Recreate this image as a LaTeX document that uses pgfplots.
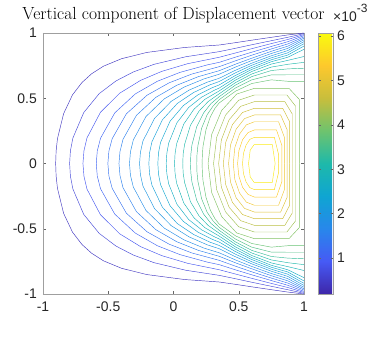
\documentclass[border=0pt]{standalone}
\usepackage{fontspec}
\newfontfamily\arial{Liberation Sans}
\usepackage{pgfplots}
\usepackage{pgfplotstable}
\pgfplotsset{compat=1.18}

% upper halves of the contours (the field is symmetric in y)
\pgfplotstableread{
x y z
1 1.000 0.416
0.875 0.985 0.416
0.75 0.967 0.416
0.6 0.945 0.416
0.475 0.926 0.416
0.35 0.908 0.416
0.084 0.889 0.416
-0.205 0.851 0.416
-0.398 0.803 0.416
-0.536 0.746 0.416
-0.627 0.688 0.416
-0.701 0.621 0.416
-0.774 0.526 0.416
-0.842 0.382 0.416
-0.889 0.191 0.416
-0.8995 0.096 0.416
-0.903 0 0.416
}\kA
\pgfplotstableread{
x y z
1 0.995 0.642
0.875 0.967 0.642
0.75 0.941 0.642
0.6 0.910 0.642
0.475 0.883 0.642
0.35 0.857 0.642
0.094 0.818 0.642
-0.149 0.760 0.642
-0.309 0.701 0.642
-0.440 0.633 0.642
-0.569 0.536 0.642
-0.688 0.390 0.642
-0.771 0.195 0.642
-0.790 0.097 0.642
-0.796 0 0.642
}\kB
\pgfplotstableread{
x y z
1 0.988 0.868
0.875 0.95 0.868
0.75 0.919 0.868
0.6 0.880 0.868
0.475 0.847 0.868
0.35 0.814 0.868
0.109 0.765 0.868
-0.090 0.706 0.868
-0.252 0.637 0.868
-0.412 0.539 0.868
-0.560 0.392 0.868
-0.663 0.196 0.868
-0.686 0.098 0.868
-0.694 0 0.868
}\kC
\pgfplotstableread{
x y z
1 0.98 1.094
0.875 0.933 1.094
0.75 0.897 1.094
0.6 0.853 1.094
0.475 0.815 1.094
0.35 0.775 1.094
0.260 0.756 1.094
0.049 0.698 1.094
-0.124 0.630 1.094
-0.293 0.533 1.094
-0.450 0.388 1.094
-0.559 0.194 1.094
-0.584 0.097 1.094
-0.592 0 1.094
}\kD
\pgfplotstableread{
x y z
1 0.97 1.320
0.875 0.916 1.320
0.75 0.878 1.320
0.6 0.830 1.320
0.475 0.787 1.320
0.35 0.742 1.320
0.139 0.685 1.320
-0.034 0.618 1.320
-0.203 0.523 1.320
-0.361 0.381 1.320
-0.470 0.190 1.320
-0.495 0.095 1.320
-0.503 0 1.320
}\kE
\pgfplotstableread{
x y z
1 0.96 1.546
0.875 0.899 1.546
0.75 0.860 1.546
0.6 0.807 1.546
0.475 0.761 1.546
0.35 0.711 1.546
0.189 0.665 1.546
0.026 0.600 1.546
-0.134 0.508 1.546
-0.284 0.369 1.546
-0.387 0.185 1.546
-0.410 0.092 1.546
-0.418 0 1.546
}\kF
\pgfplotstableread{
x y z
1 0.948 1.772
0.875 0.882 1.772
0.75 0.843 1.772
0.6 0.789 1.772
0.475 0.739 1.772
0.35 0.684 1.772
0.233 0.648 1.772
0.080 0.585 1.772
-0.071 0.495 1.772
-0.211 0.360 1.772
-0.308 0.180 1.772
-0.330 0.090 1.772
-0.337 0 1.772
}\kG
\pgfplotstableread{
x y z
1 0.934 1.998
0.875 0.865 1.998
0.75 0.8255 1.998
0.6 0.769 1.998
0.475 0.7145 1.998
0.35 0.653 1.998
0.258 0.623 1.998
0.119 0.562 1.998
-0.018 0.476 1.998
-0.145 0.346 1.998
-0.234 0.173 1.998
-0.2535 0.086 1.998
-0.260 0 1.998
}\kH
\pgfplotstableread{
x y z
1 0.918 2.224
0.875 0.848 2.224
0.75 0.810 2.224
0.6 0.753 2.224
0.475 0.695 2.224
0.35 0.628 2.224
0.280 0.603 2.224
0.154 0.544 2.224
0.030 0.461 2.224
-0.085 0.335 2.224
-0.165 0.167 2.224
-0.183 0.084 2.224
-0.189 0 2.224
}\kI
\pgfplotstableread{
x y z
1 0.9 2.450
0.875 0.831 2.450
0.75 0.795 2.450
0.6 0.736 2.450
0.475 0.675 2.450
0.35 0.602 2.450
0.299 0.582 2.450
0.186 0.525 2.450
0.076 0.444 2.450
-0.027 0.323 2.450
-0.099 0.162 2.450
-0.115 0.081 2.450
-0.120 0 2.450
}\kJ
\pgfplotstableread{
x y z
1 0.875 2.676
0.875 0.814 2.676
0.75 0.780 2.676
0.6 0.721 2.676
0.475 0.657 2.676
0.35 0.578 2.676
0.314 0.562 2.676
0.215 0.508 2.676
0.117 0.430 2.676
0.026 0.312 2.676
-0.037 0.156 2.676
-0.051 0.078 2.676
-0.056 0 2.676
}\kK
\pgfplotstableread{
x y z
1 0.82 2.902
0.875 0.79 2.902
0.75 0.762 2.902
0.6 0.705 2.902
0.475 0.639 2.902
0.35 0.556 2.902
0.241 0.492 2.902
0.157 0.416 2.902
0.079 0.303 2.902
0.024 0.151 2.902
0.012 0.076 2.902
0.008 0 2.902
}\kL
\pgfplotstableread{
x y z
1 0.775 3.128
0.875 0.76 3.128
0.75 0.739 3.128
0.6 0.686 3.128
0.475 0.620 3.128
0.35 0.534 3.128
0.266 0.475 3.128
0.196 0.402 3.128
0.130 0.293 3.128
0.085 0.146 3.128
0.074 0.073 3.128
0.071 0 3.128
}\kM
\pgfplotstableread{
x y z
1 0.73 3.354
0.875 0.725 3.354
0.75 0.7125 3.354
0.6 0.666 3.354
0.475 0.601 3.354
0.35 0.512 3.354
0.287 0.459 3.354
0.231 0.388 3.354
0.178 0.282 3.354
0.141 0.141 3.354
0.133 0.071 3.354
0.130 0 3.354
}\kN
\pgfplotstableread{
x y z
1 0.68 3.580
0.875 0.68 3.580
0.75 0.679 3.580
0.6 0.641 3.580
0.475 0.579 3.580
0.35 0.489 3.580
0.304 0.441 3.580
0.258 0.374 3.580
0.216 0.272 3.580
0.187 0.136 3.580
0.180 0.068 3.580
0.178 0 3.580
}\kO
\pgfplotstableread{
x y z
1 0.63 3.806
0.875 0.63 3.806
0.75 0.641 3.806
0.6 0.613 3.806
0.475 0.554 3.806
0.35 0.464 3.806
0.317 0.422 3.806
0.282 0.357 3.806
0.249 0.260 3.806
0.226 0.130 3.806
0.221 0.065 3.806
0.219 0 3.806
}\kP
% closed loops round the maximum
\pgfplotstableread{
x y z
0.265 0 4.032
0.292 0.221 4.032
0.369 0.407 4.032
0.484 0.532 4.032
0.62 0.576 4.032
0.885 0.576 4.032
0.965 0.49 4.032
0.965 0 4.032
}\lA
\pgfplotstableread{
x y z
0.307 0 4.258
0.331 0.201 4.258
0.399 0.371 4.258
0.500 0.485 4.258
0.62 0.525 4.258
0.869 0.525 4.258
0.935 0.44 4.258
0.935 0 4.258
}\lB
\pgfplotstableread{
x y z
0.346 0 4.484
0.367 0.182 4.484
0.426 0.335 4.484
0.515 0.438 4.484
0.62 0.474 4.484
0.853 0.474 4.484
0.91 0.38 4.484
0.91 0 4.484
}\lC
\pgfplotstableread{
x y z
0.382 0 4.710
0.400 0.162 4.710
0.452 0.299 4.710
0.529 0.391 4.710
0.62 0.423 4.710
0.837 0.423 4.710
0.89 0.32 4.710
0.89 0 4.710
}\lD
\pgfplotstableread{
x y z
0.422 0 4.936
0.437 0.142 4.936
0.480 0.263 4.936
0.544 0.344 4.936
0.62 0.372 4.936
0.821 0.372 4.936
0.87 0.26 4.936
0.87 0 4.936
}\lE
\pgfplotstableread{
x y z
0.458 0 5.162
0.470 0.123 5.162
0.506 0.226 5.162
0.558 0.296 5.162
0.62 0.32 5.162
0.805 0.32 5.162
0.85 0.2 5.162
0.85 0 5.162
}\lF
\pgfplotstableread{
x y z
0.491 0 5.388
0.501 0.098 5.388
0.529 0.182 5.388
0.571 0.237 5.388
0.62 0.257 5.388
0.789 0.257 5.388
0.83 0.14 5.388
0.83 0 5.388
}\lG
\pgfplotstableread{
x y z
0.529 0 5.614
0.536 0.077 5.614
0.556 0.141 5.614
0.585 0.185 5.614
0.62 0.2 5.614
0.773 0.2 5.614
0.805 0.07 5.614
0.805 0 5.614
}\lH
\pgfplotstableread{
x y z
0.575 0 5.840
0.588 0.103 5.840
0.618 0.145 5.840
0.757 0.145 5.840
0.779 0 5.840
}\lI

\pgfplotsset{cp/.style={contour prepared={labels=false}, point meta=\thisrow{z}}}
\newcommand\both[1]{%
  \addplot[cp] table[x=x,y=y] {#1};
  \addplot[cp] table[x=x,y expr=-\thisrow{y}] {#1};
}

\begin{document}
\begin{tikzpicture}
\path[use as bounding box] (-43bp,-44bp) rectangle (339bp,294bp);
\begin{axis}[
  at={(0,0)}, anchor=south west,
  width=261bp, height=261bp, scale only axis,
  xmin=-1, xmax=1, ymin=-1, ymax=1,
  xtick={-1,-0.5,0,0.5,1}, xticklabels={-1,-0.5,0,0.5,1},
  ytick={-1,-0.5,0,0.5,1}, yticklabels={-1,-0.5,0,0.5,1},
  tick label style={font=\arial\fontsize{14}{14}\selectfont, color=black!85},
  xticklabel style={anchor=north, inner sep=0pt, yshift=-8bp},
  yticklabel style={anchor=east, inner sep=0pt, xshift=-6bp},
  tick align=inside, major tick length=3bp,
  tick style={color=black!60, line width=0.4pt},
  axis line style={color=gray!75, line width=0.5pt},
  title={Vertical component of Displacement vector},
  title style={font=\fontsize{17.6}{17.6}\selectfont, at={(0.5,1)}, anchor=base, yshift=8bp, inner sep=0pt},
  colormap={parula}{rgb255=(62,38,168) rgb255=(70,90,245) rgb255=(40,135,235) rgb255=(15,165,210) rgb255=(30,185,170) rgb255=(110,195,110) rgb255=(200,190,60) rgb255=(253,200,45) rgb255=(249,251,14)},
  point meta min=0.19, point meta max=6.07,
  colorbar,
  colorbar style={
    at={(parent axis.north east)}, anchor=north west, xshift=5.5bp,
    width=15bp,
    ytick={1,2,3,4,5,6}, yticklabels={1,2,3,4,5,6},
    yticklabel style={font=\arial\fontsize{14}{14}\selectfont, color=black!85, anchor=west, inner sep=0pt, xshift=4bp},
    major tick length=2.5bp,
    tick style={color=black!60, line width=0.4pt},
    axis line style={color=gray!75, line width=0.5pt},
  },
  every axis plot/.append style={line width=0.45pt},
]
\both{\kA}\both{\kB}\both{\kC}\both{\kD}\both{\kE}\both{\kF}\both{\kG}\both{\kH}
\both{\kI}\both{\kJ}\both{\kK}\both{\kL}\both{\kM}\both{\kN}\both{\kO}\both{\kP}
\both{\lA}\both{\lB}\both{\lC}\both{\lD}\both{\lE}\both{\lF}\both{\lG}\both{\lH}\both{\lI}
\end{axis}
\node[anchor=base west, inner sep=0pt, text=black!85] at (290bp,272bp)
  {\arial\fontsize{14}{14}\selectfont ×10\raisebox{9bp}{\fontsize{12}{12}\selectfont -3}};
\end{tikzpicture}
\end{document}
